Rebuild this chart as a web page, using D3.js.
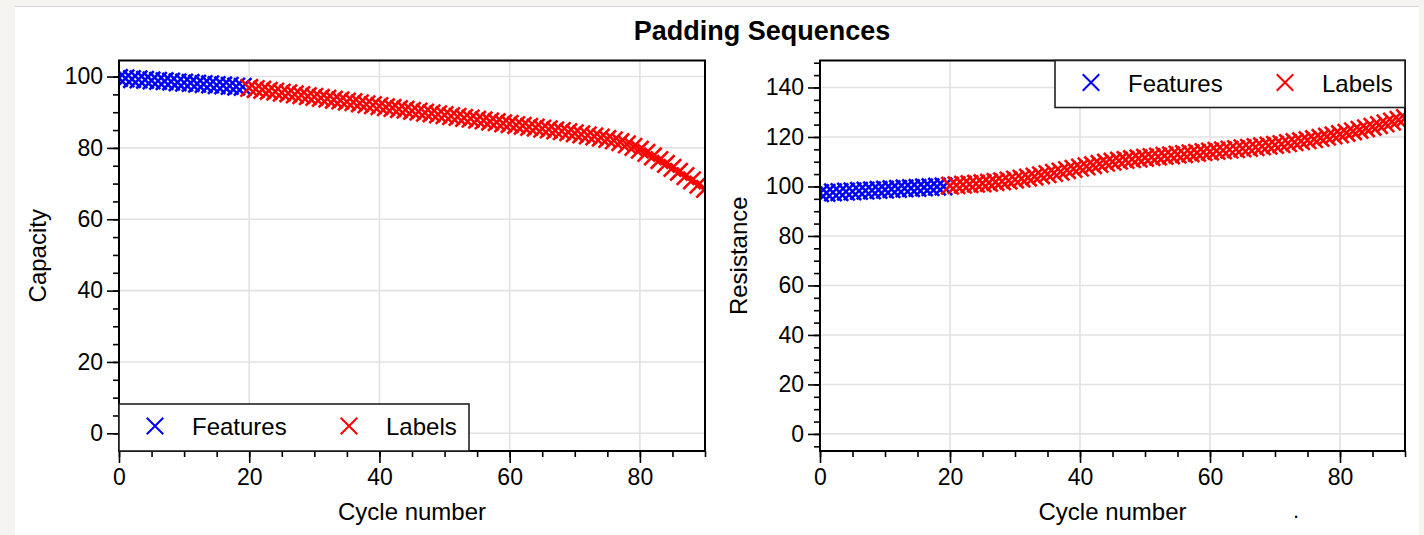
<!DOCTYPE html>
<html>
<head>
<meta charset="utf-8">
<script src="https://cdn.jsdelivr.net/npm/d3@7"></script>
<style>
  body { margin: 0; background: #f5f4f1; }
  svg { display: block; font-family: "Liberation Sans", Arial, sans-serif; }
</style>
</head>
<body>
<div id="chart"></div>
<script>
// cycle numbers
var featureCycles = d3.range(0, 20);
var labelCycles = d3.range(20, 91);

// capacity (left panel)
var capacityFeatures = [99.6, 99.5, 99.3, 99.2, 99.1, 98.9, 98.8, 98.7, 98.6, 98.4,
    98.3, 98.2, 98.0, 97.9, 97.8, 97.6, 97.5, 97.4, 97.2, 97.1];
var capacityLabels = [96.8, 96.5, 96.3, 96.0, 95.8, 95.5, 95.3, 95.0, 94.8, 94.5,
    94.3, 94.0, 93.8, 93.5, 93.3, 93.0, 92.8, 92.5, 92.2, 92.0,
    91.7, 91.4, 91.2, 90.9, 90.7, 90.4, 90.2, 89.9, 89.7, 89.4,
    89.2, 88.9, 88.7, 88.4, 88.2, 87.9, 87.7, 87.4, 87.2, 86.9,
    86.7, 86.4, 86.2, 85.9, 85.7, 85.4, 85.2, 84.9, 84.7, 84.4,
    84.1, 83.8, 83.5, 83.2, 82.9, 82.5, 82.1, 81.6, 81.0, 80.3,
    79.5, 78.6, 77.6, 76.6, 75.5, 74.4, 73.3, 72.1, 70.9, 69.7,
    68.5];

// resistance (right panel)
var resistanceFeatures = [97.3, 97.4, 97.6, 97.7, 97.9, 98.0, 98.2, 98.3, 98.4, 98.6,
    98.7, 98.9, 99.0, 99.2, 99.3, 99.4, 99.6, 99.7, 99.9, 100.0];
var resistanceLabels = [100.3, 100.5, 100.7, 100.9, 101.1, 101.3, 101.5, 101.8, 102.1, 102.4,
    102.8, 103.2, 103.6, 104.0, 104.5, 105.0, 105.5, 106.0, 106.6, 107.1,
    107.6, 108.1, 108.6, 109.1, 109.6, 110.0, 110.4, 110.7, 111.0, 111.3,
    111.6, 111.9, 112.1, 112.4, 112.6, 112.9, 113.1, 113.4, 113.6, 113.9,
    114.1, 114.4, 114.6, 114.9, 115.1, 115.4, 115.6, 115.9, 116.2, 116.5,
    116.8, 117.1, 117.5, 117.9, 118.3, 118.7, 119.1, 119.6, 120.1, 120.6,
    121.1, 121.7, 122.3, 122.9, 123.5, 124.1, 124.8, 125.5, 126.2, 126.9,
    127.6];

var seriesNames = ["Features", "Labels"];
var seriesColors = ["#0000ff", "#ff0000"];

var xTicks = [0, 20, 40, 60, 80];
var capacityTicks = [0, 20, 40, 60, 80, 100];
var resistanceTicks = [0, 20, 40, 60, 80, 100, 120, 140];

var W = 1424, H = 535;
var svg = d3.select("#chart").append("svg").attr("width", W).attr("height", H);

// white panel
svg.append("rect").attr("x", 15).attr("y", 6).attr("width", 1404).attr("height", H - 6).attr("fill", "#fff");
svg.append("line").attr("x1", 15).attr("x2", 1419).attr("y1", 6.5).attr("y2", 6.5).attr("stroke", "#d4d4d4");

svg.append("text").attr("x", 762).attr("y", 40).attr("text-anchor", "middle")
    .attr("font-weight", "bold").attr("font-size", 27).text("Padding Sequences");

var defs = svg.append("defs");

function drawPanel(opt) {
    var x = d3.scaleLinear().domain([0, 90]).range([opt.left, opt.right]);
    var y = d3.scaleLinear().domain(opt.yDomain).range([opt.bottom, opt.top]);
    var g = svg.append("g");

    // grid
    g.selectAll(".gx").data(xTicks).enter().append("line")
        .attr("x1", d => x(d)).attr("x2", d => x(d))
        .attr("y1", opt.top).attr("y2", opt.bottom)
        .attr("stroke", "#e2e2e2").attr("stroke-width", 1.6);
    g.selectAll(".gy").data(opt.yTicks).enter().append("line")
        .attr("x1", opt.left).attr("x2", opt.right)
        .attr("y1", d => y(d)).attr("y2", d => y(d))
        .attr("stroke", "#e2e2e2").attr("stroke-width", 1.6);

    // markers, clipped to the plot box
    defs.append("clipPath").attr("id", opt.id)
        .append("rect").attr("x", opt.left).attr("y", opt.top)
        .attr("width", opt.right - opt.left).attr("height", opt.bottom - opt.top);
    var marks = g.append("g").attr("clip-path", "url(#" + opt.id + ")");
    var sym = d3.symbol().type(d3.symbolTimes).size(200);
    opt.series.forEach(function(s, i) {
        marks.selectAll(".m" + i).data(s.values).enter().append("path")
            .attr("d", sym)
            .attr("transform", (d, j) => "translate(" + x(s.cycles[j]) + "," + y(d) + ")")
            .attr("fill", "none").attr("stroke", seriesColors[i]).attr("stroke-width", 2.6);
    });

    // axes
    var xAxis = d3.axisBottom(x).tickValues(d3.range(0, 91, 5)).tickSize(6).tickFormat("");
    g.append("g").attr("transform", "translate(0," + opt.bottom + ")").call(xAxis);
    var xAxisMajor = d3.axisBottom(x).tickValues(xTicks).tickSize(12).tickPadding(6);
    g.append("g").attr("transform", "translate(0," + opt.bottom + ")").call(xAxisMajor);

    var minorY = d3.range(0, opt.yDomain[1], 5).concat(d3.range(-5, opt.yDomain[0], -5));
    var yAxis = d3.axisLeft(y).tickValues(minorY).tickSize(6).tickFormat("");
    g.append("g").attr("transform", "translate(" + opt.left + ",0)").call(yAxis);
    var yAxisMajor = d3.axisLeft(y).tickValues(opt.yTicks).tickSize(12).tickPadding(4);
    g.append("g").attr("transform", "translate(" + opt.left + ",0)").call(yAxisMajor);

    g.selectAll(".domain").remove();
    g.selectAll(".tick line").attr("stroke", "#000").attr("stroke-width", 1.6);
    g.selectAll(".tick text").attr("font-size", 23).attr("fill", "#000")
        .attr("font-family", "Liberation Sans, Arial, sans-serif");

    g.append("rect").attr("x", opt.left).attr("y", opt.top)
        .attr("width", opt.right - opt.left).attr("height", opt.bottom - opt.top)
        .attr("fill", "none").attr("stroke", "#000").attr("stroke-width", 2);

    // axis titles
    g.append("text").attr("x", (opt.left + opt.right) / 2).attr("y", 520)
        .attr("text-anchor", "middle").attr("font-size", 24).text("Cycle number");
    g.append("text").attr("transform", "translate(" + opt.yLabelX + "," + (opt.top + opt.bottom) / 2 + ") rotate(-90)")
        .attr("text-anchor", "middle").attr("font-size", 24).text(opt.yLabel);

    // legend
    var lg = g.append("g").attr("transform", "translate(" + opt.legendX + "," + opt.legendY + ")");
    lg.append("rect").attr("width", 350).attr("height", 47)
        .attr("fill", "#fff").attr("stroke", "#222").attr("stroke-width", 1.6);
    seriesNames.forEach(function(name, i) {
        var sx = 36 + i * 194;
        lg.append("path").attr("d", d3.symbol().type(d3.symbolTimes).size(180))
            .attr("transform", "translate(" + sx + ",22)")
            .attr("fill", "none").attr("stroke", seriesColors[i]).attr("stroke-width", 2);
        lg.append("text").attr("x", sx + 37).attr("y", 31).attr("font-size", 24).text(name);
    });
}

drawPanel({
    id: "clipL", left: 119, right: 705, top: 60.5, bottom: 451,
    yDomain: [-4.96, 104.5], yTicks: capacityTicks, yLabel: "Capacity", yLabelX: 46,
    legendX: 119, legendY: 404,
    series: [{cycles: featureCycles, values: capacityFeatures},
             {cycles: labelCycles, values: capacityLabels}]
});

drawPanel({
    id: "clipR", left: 820, right: 1405, top: 60.5, bottom: 451,
    yDomain: [-6.9, 150.9], yTicks: resistanceTicks, yLabel: "Resistance", yLabelX: 747,
    legendX: 1055, legendY: 60.5,
    series: [{cycles: featureCycles, values: resistanceFeatures},
             {cycles: labelCycles, values: resistanceLabels}]
});

// stray dot under the right panel
svg.append("text").attr("x", 1293).attr("y", 518).attr("font-size", 22).text(".");
</script>
</body>
</html>
